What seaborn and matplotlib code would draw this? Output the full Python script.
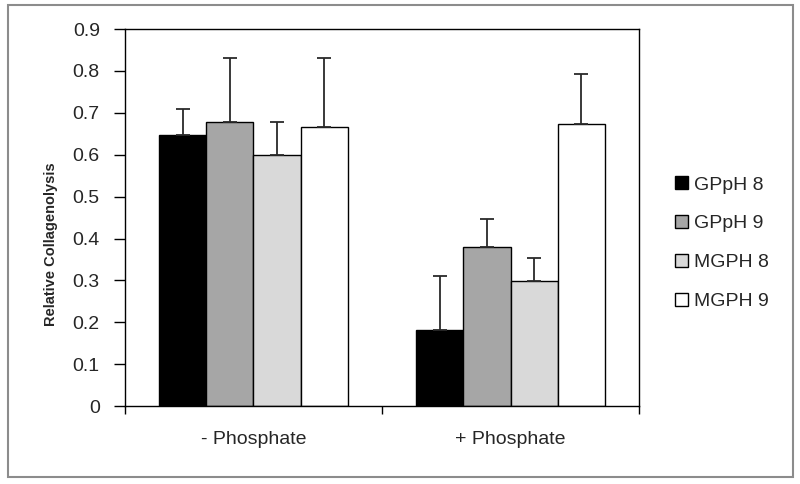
import numpy as np
import pandas as pd
import matplotlib.pyplot as plt
import matplotlib.patches as mpatches
import seaborn as sns

groups = ['- Phosphate', '+ Phosphate']
series = ['GPpH 8', 'GPpH 9', 'MGPH 8', 'MGPH 9']

gpph8 = [0.648, 0.182]
gpph9 = [0.679, 0.380]
mgph8 = [0.600, 0.299]
mgph9 = [0.666, 0.674]

gpph8_err = [0.061, 0.128]
gpph9_err = [0.152, 0.067]
mgph8_err = [0.078, 0.054]
mgph9_err = [0.165, 0.118]

colors = ['#000000', '#a6a6a6', '#d9d9d9', '#ffffff']

values = [gpph8, gpph9, mgph8, mgph9]
errors = [gpph8_err, gpph9_err, mgph8_err, mgph9_err]

rows = []
for s, vals in zip(series, values):
    for g, v in zip(groups, vals):
        rows.append({'group': g, 'series': s, 'value': v})
df = pd.DataFrame(rows)

sns.set_theme(style='white')
plt.rcParams['font.family'] = ['Liberation Sans', 'DejaVu Sans']

fig = plt.figure(figsize=(8, 4.84), dpi=100)
ax = fig.add_axes([0.156, 0.161, 0.643, 0.779])

sns.barplot(data=df, x='group', y='value', hue='series', order=groups,
            hue_order=series, palette=colors, width=0.735, errorbar=None,
            edgecolor='black', linewidth=1.0, saturation=1, ax=ax)

# upper-only error bars
for cont, err in zip(ax.containers, errors):
    xs = [p.get_x() + p.get_width() / 2 for p in cont.patches]
    ys = [p.get_height() for p in cont.patches]
    ax.errorbar(xs, ys, yerr=[np.zeros(len(err)), err], fmt='none',
                ecolor='#2a2a2a', elinewidth=1.3, capsize=5, capthick=1.3,
                zorder=1)

ax.set_ylim(0, 0.9)
ax.set_xlim(-0.5, 1.5)
ax.set_yticks(np.arange(0, 0.91, 0.1))
ax.set_yticklabels(['0'] + ['%.1f' % v for v in np.arange(0.1, 0.91, 0.1)])
ax.tick_params(axis='y', direction='out', length=8, width=1, pad=10,
               labelsize=14, left=True, color='black')
ax.tick_params(axis='x', which='major', length=0, pad=18, labelsize=14)
ax.set_xticks([-0.5, 0.5, 1.5], minor=True)
ax.tick_params(axis='x', which='minor', direction='out', length=6, width=1,
               bottom=True, color='black')

for sp in ax.spines.values():
    sp.set_visible(True)
    sp.set_color('black')
    sp.set_linewidth(1.0)

ax.set_xlabel('')
ax.set_ylabel('Relative Collagenolysis', fontsize=10.5, fontweight='bold')
ax.yaxis.set_label_coords(-0.13, 0.43)

handles, labels = ax.get_legend_handles_labels()
ax.legend(handles, labels, loc='upper left', bbox_to_anchor=(1.07, 0.61),
          frameon=False, fontsize=14, handlelength=0.68, handleheight=0.68,
          handletextpad=0.3, labelspacing=1.1, borderpad=0, borderaxespad=0)

fig.patches.append(mpatches.Rectangle((0.010, 0.014), 0.981, 0.975,
                                      transform=fig.transFigure, fill=False,
                                      edgecolor='#8c8c8c', linewidth=1.5))

fig.savefig('out.png', dpi=100)
